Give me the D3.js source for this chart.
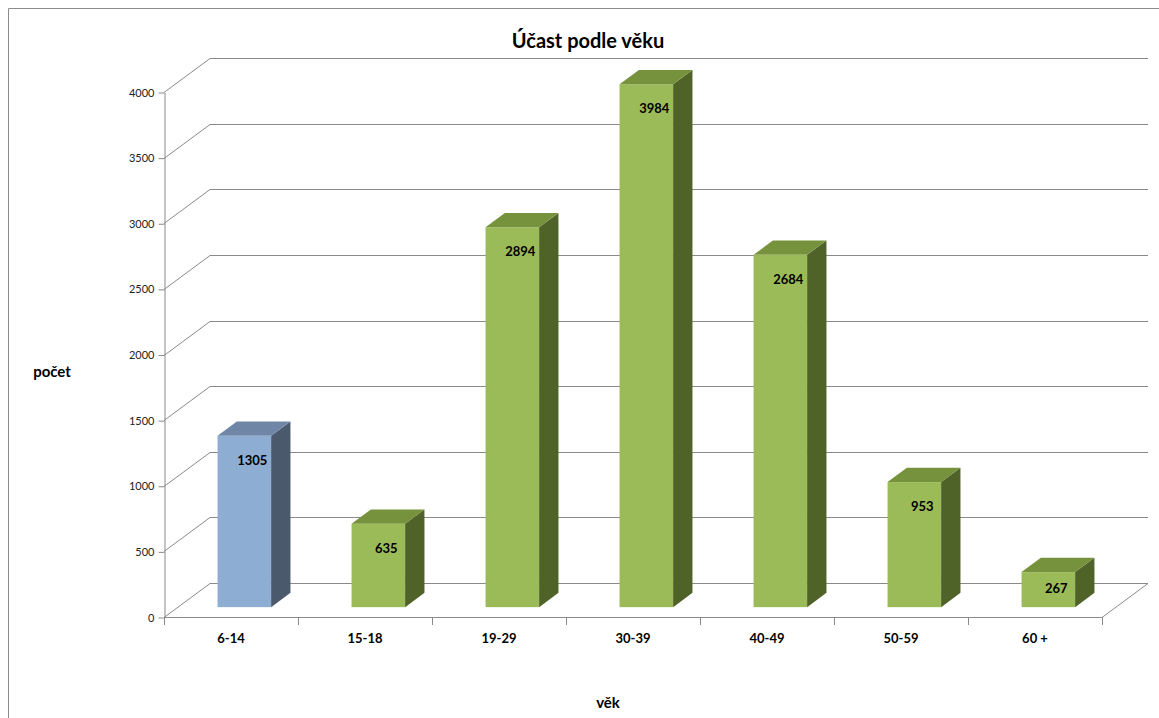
<!DOCTYPE html>
<html>
<head>
<meta charset="utf-8">
<script src="https://cdn.jsdelivr.net/npm/d3@7"></script>
<style>
  html, body { margin: 0; padding: 0; background: #fff; }
  svg { display: block; font-family: Lato, "Open Sans", sans-serif; }
</style>
</head>
<body>
<svg id="chart" width="1159" height="718"></svg>
<script>
const categories = ["6-14", "15-18", "19-29", "30-39", "40-49", "50-59", "60 +"];
const values = [1305, 635, 2894, 3984, 2684, 953, 267];
const highlighted = ["6-14"];
const yTicks = [0, 500, 1000, 1500, 2000, 2500, 3000, 3500, 4000];
const titleText = "Účast podle věku";
const yAxisTitle = "počet";
const xAxisTitle = "věk";

const svg = d3.select("#chart");
const W = 1159, H = 718;

// geometry
const plotLeft = 164, plotRight = 1102, plotBottom = 617, plotTop = 92;
const depthX = 46, depthY = -34;          // full floor depth
const barDepthStart = 0.29, barDepthEnd = 0.71;

const x = d3.scaleBand().domain(categories).range([plotLeft, plotRight]).padding(0);
const y = d3.scaleLinear().domain([0, 4000]).range([plotBottom, plotTop]);
const barW = x.bandwidth() * 0.4;

const gridColor = "#8a8a8a";

// chart border (top & left visible)
svg.append("path")
  .attr("d", `M8.5,${H} L8.5,8.5 L${W},8.5`)
  .attr("fill", "none").attr("stroke", "#8c8c8c").attr("stroke-width", 1);

// gridlines: side wall diagonal + back wall horizontal
const grid = svg.append("g");
yTicks.forEach(v => {
  const yy = Math.round(y(v)) + 0.5;
  grid.append("path")
    .attr("d", `M${plotLeft},${yy} L${plotLeft + depthX},${yy + depthY} L${plotRight + depthX},${yy + depthY}`)
    .attr("fill", "none").attr("stroke", gridColor).attr("stroke-width", 1);
});
// floor right edge
grid.append("line")
  .attr("x1", plotRight).attr("y1", Math.round(y(0)) + 0.5)
  .attr("x2", plotRight + depthX).attr("y2", Math.round(y(0)) + 0.5 + depthY)
  .attr("stroke", gridColor);

// bars
const colors = {
  normal: { front: "#9bbb59", side: "#4f6228", top: "#76923c" },
  hi: { front: "#8eadd3", side: "#4a596c", top: "#6f86a6" }
};
const bars = svg.append("g");
const fdx = depthX * barDepthStart, fdy = depthY * barDepthStart;
const bdx = depthX * (barDepthEnd - barDepthStart), bdy = depthY * (barDepthEnd - barDepthStart);

categories.forEach((c, i) => {
  const v = values[i];
  const col = highlighted.includes(c) ? colors.hi : colors.normal;
  const cx = x(c) + x.bandwidth() / 2 + fdx;
  const x0 = cx - barW / 2, x1 = cx + barW / 2;
  const yb = y(0) + fdy, yt = y(v) + fdy;
  bars.append("rect")
    .attr("x", x0).attr("y", yt).attr("width", barW).attr("height", yb - yt)
    .attr("fill", col.front);
  bars.append("path")
    .attr("d", `M${x1},${yb} L${x1 + bdx},${yb + bdy} L${x1 + bdx},${yt + bdy} L${x1},${yt} Z`)
    .attr("fill", col.side);
  bars.append("path")
    .attr("d", `M${x0},${yt} L${x0 + bdx},${yt + bdy} L${x1 + bdx},${yt + bdy} L${x1},${yt} Z`)
    .attr("fill", col.top);
  const h = yb - yt;
  bars.append("text")
    .attr("x", cx + 8).attr("y", yt + Math.min(29, h * 0.6))
    .attr("text-anchor", "middle")
    .attr("font-size", 13).attr("font-weight", "bold").attr("fill", "#000")
    .text(v);
});

// y axis
const yAxis = svg.append("g")
  .attr("transform", `translate(${plotLeft + 0.5},0.5)`)
  .call(d3.axisLeft(y).tickValues(yTicks).tickFormat(d3.format("d"))
    .tickSize(6).tickPadding(4).tickSizeOuter(0));
yAxis.select(".domain").attr("stroke", gridColor);
yAxis.selectAll(".tick line").attr("stroke", gridColor);
yAxis.selectAll(".tick text").attr("font-size", 11).attr("fill", "#222")
  .attr("font-family", "Lato, 'Open Sans', sans-serif");

// x axis line + ticks
const xAxis = svg.append("g");
xAxis.append("line")
  .attr("x1", plotLeft).attr("x2", plotRight)
  .attr("y1", Math.round(y(0)) + 0.5).attr("y2", Math.round(y(0)) + 0.5)
  .attr("stroke", gridColor);
const tickXs = categories.map(c => x(c)).concat([x(categories[categories.length - 1]) + x.bandwidth()]);
tickXs.forEach(tx => {
  xAxis.append("line")
    .attr("x1", Math.round(tx) + 0.5).attr("x2", Math.round(tx) + 0.5)
    .attr("y1", y(0)).attr("y2", y(0) + 8)
    .attr("stroke", gridColor);
});
categories.forEach(c => {
  xAxis.append("text")
    .attr("x", x(c) + x.bandwidth() / 2).attr("y", 643)
    .attr("text-anchor", "middle")
    .attr("font-size", 13).attr("font-weight", "bold").attr("fill", "#000")
    .text(c);
});

// titles
svg.append("text").attr("x", 588).attr("y", 48).attr("text-anchor", "middle")
  .attr("font-size", 20).attr("font-weight", "bold").attr("fill", "#000").text(titleText);
svg.append("text").attr("x", 52).attr("y", 377).attr("text-anchor", "middle")
  .attr("font-size", 15).attr("font-weight", "bold").attr("fill", "#000").text(yAxisTitle);
svg.append("text").attr("x", 608).attr("y", 708).attr("text-anchor", "middle")
  .attr("font-size", 15).attr("font-weight", "bold").attr("fill", "#000").text(xAxisTitle);
</script>
</body>
</html>
